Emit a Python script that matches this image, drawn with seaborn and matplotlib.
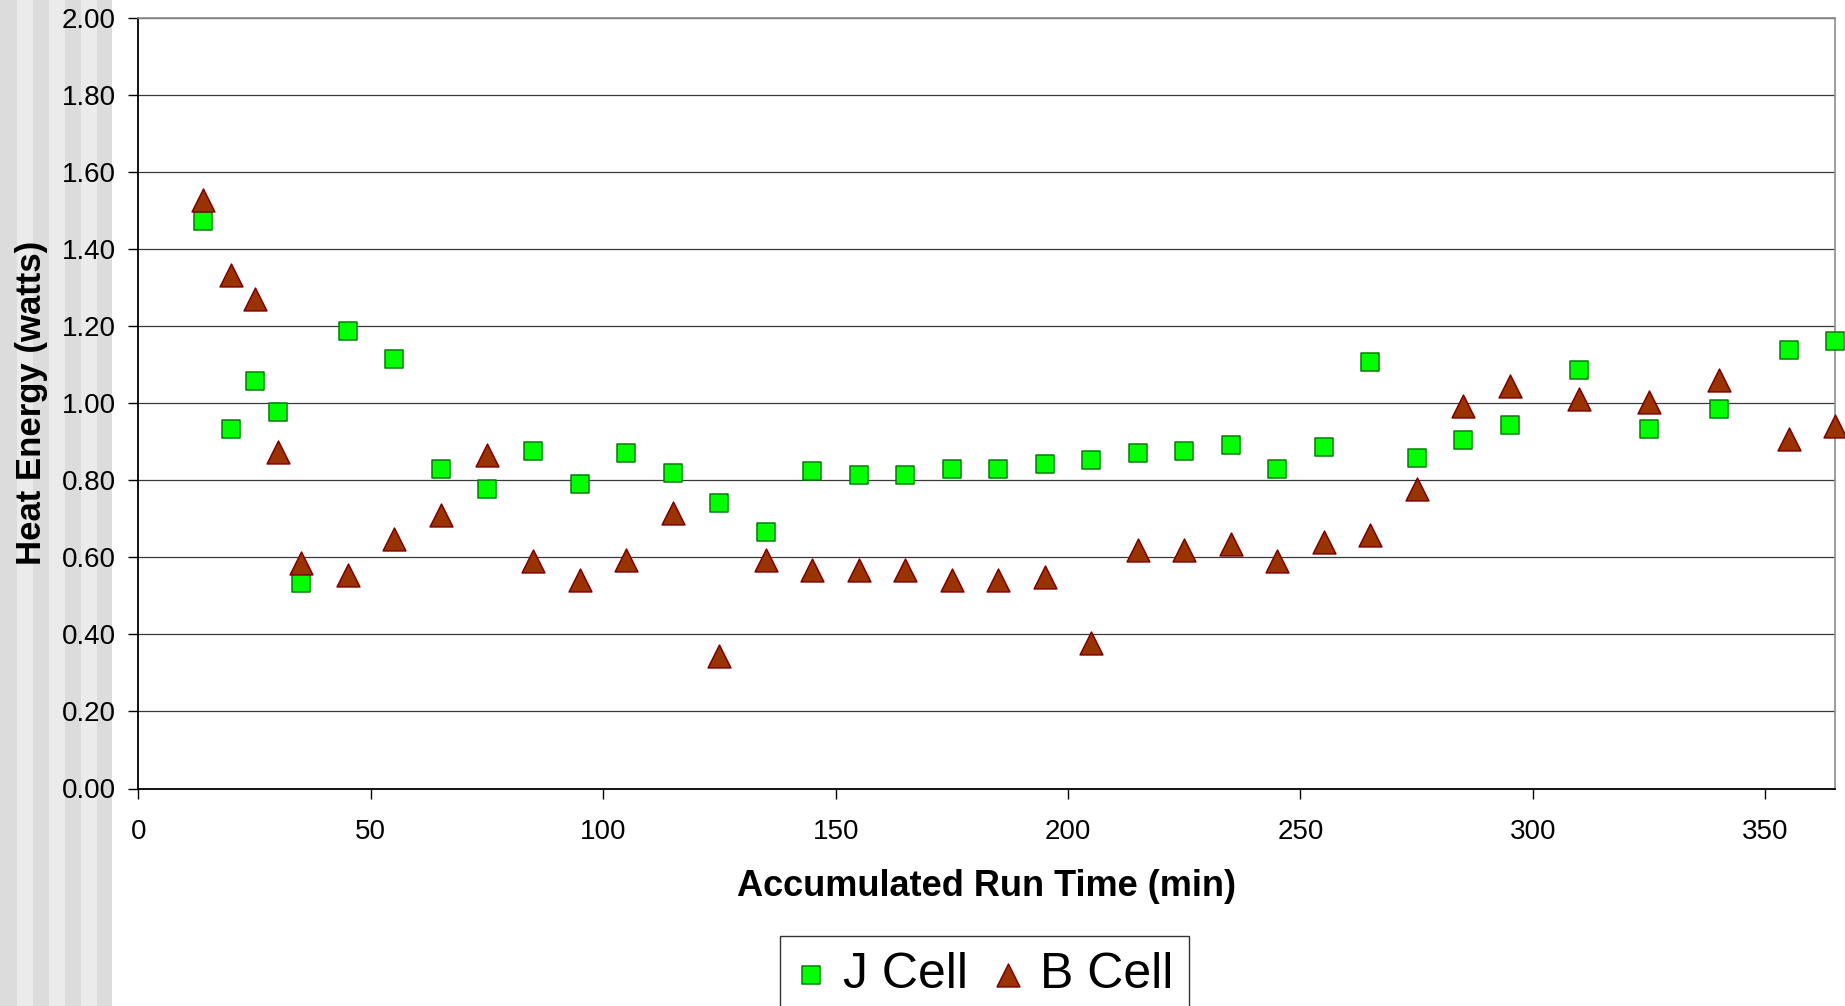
import matplotlib
matplotlib.use("Agg")
import matplotlib.pyplot as plt
from matplotlib.patches import Rectangle
import seaborn as sns
import pandas as pd

# ---- data ----
run_time = [14, 20, 25, 30, 35, 45, 55, 65, 75, 85, 95, 105, 115, 125, 135,
            145, 155, 165, 175, 185, 195, 205, 215, 225, 235, 245, 255, 265,
            275, 285, 295, 310, 325, 340, 355, 365]
j_cell = [1.473, 0.933, 1.058, 0.977, 0.532, 1.186, 1.114, 0.828, 0.776, 0.876,
          0.790, 0.871, 0.818, 0.741, 0.665, 0.823, 0.813, 0.813, 0.828, 0.828,
          0.842, 0.852, 0.871, 0.876, 0.890, 0.828, 0.885, 1.106, 0.857, 0.904,
          0.942, 1.086, 0.933, 0.985, 1.138, 1.162]
b_cell = [1.527, 1.331, 1.269, 0.873, 0.586, 0.553, 0.648, 0.710, 0.864, 0.591,
          0.540, 0.592, 0.715, 0.343, 0.592, 0.568, 0.568, 0.568, 0.540, 0.540,
          0.549, 0.377, 0.620, 0.620, 0.634, 0.591, 0.639, 0.658, 0.776, 0.993,
          1.045, 1.011, 1.002, 1.060, 0.906, 0.940]
series_names = ["J Cell", "B Cell"]
y_ticks = [0.0, 0.2, 0.4, 0.6, 0.8, 1.0, 1.2, 1.4, 1.6, 1.8, 2.0]
x_ticks = [0, 50, 100, 150, 200, 250, 300, 350]
x_label = "Accumulated Run Time (min)"
y_label = "Heat Energy (watts)"

df_j = pd.DataFrame({"t": run_time, "v": j_cell})
df_b = pd.DataFrame({"t": run_time, "v": b_cell})

sns.set_theme(style="white")
plt.rcParams["font.family"] = ["Liberation Sans", "DejaVu Sans"]
plt.rcParams["text.color"] = "black"
plt.rcParams["axes.labelcolor"] = "black"
plt.rcParams["xtick.color"] = "black"
plt.rcParams["ytick.color"] = "black"

W, H = 1845, 1006
fig = plt.figure(figsize=(W / 100, H / 100), dpi=100)
fig.patch.set_facecolor("white")

# left decorative stripes (behind everything)
edges = [0, 16.7, 33.3, 49, 65, 81, 97, 112]
for i in range(len(edges) - 1):
    col = "#dcdcdc" if i % 2 == 0 else "#ebebeb"
    fig.patches.append(Rectangle((edges[i] / W, 0), (edges[i + 1] - edges[i]) / W, 1,
                                 transform=fig.transFigure, facecolor=col,
                                 edgecolor="none", zorder=-10))

left, right = 138.4 / W, 1835 / W
top, bottom = 1 - 17.6 / H, 1 - 788.5 / H
ax = fig.add_axes([left, bottom, right - left, top - bottom])
ax.set_facecolor("white")
ax.patch.set_alpha(0)

sns.scatterplot(data=df_j, x="t", y="v", ax=ax, marker="s", s=170,
                color="#00ff00", edgecolor="#008000", linewidth=1.1,
                label=series_names[0], clip_on=False, zorder=3)
sns.scatterplot(data=df_b, x="t", y="v", ax=ax, marker="^", s=270,
                color="#993300", edgecolor="#800000", linewidth=1.1,
                label=series_names[1], clip_on=False, zorder=3)

ax.set_xlim(0, 365)
ax.set_ylim(0, 2.0)
ax.set_yticks(y_ticks)
ax.set_yticklabels([f"{v:.2f}" for v in y_ticks])
ax.set_xticks(x_ticks)
ax.set_xticklabels([str(v) for v in x_ticks])

ax.grid(axis="y", color="#3a3a3a", linewidth=0.9)
ax.grid(axis="x", visible=False)
ax.set_axisbelow(True)

for s in ["left", "bottom"]:
    ax.spines[s].set_color("black")
    ax.spines[s].set_linewidth(1.3)
for s in ["top", "right"]:
    ax.spines[s].set_color("#8c8c8c")
    ax.spines[s].set_linewidth(1.2)

ax.tick_params(axis="y", direction="out", length=7.2, width=1, color="black",
               labelcolor="black", labelsize=20, pad=9, left=True)
ax.tick_params(axis="x", direction="out", length=7.2, width=1, color="black",
               labelcolor="black", labelsize=20, pad=15, bottom=True)

ax.set_xlabel(x_label, fontsize=26, fontweight="bold", labelpad=17, color="black")
ax.set_ylabel(y_label, fontsize=25, fontweight="bold", labelpad=10, color="black")

handles, labels = ax.get_legend_handles_labels()
if ax.legend_:
    ax.legend_.remove()
leg = fig.legend(handles, labels, loc="upper center",
                 bbox_to_anchor=(984.5 / W, 1 - 936 / H), ncol=2,
                 fontsize=36, frameon=True, fancybox=False, shadow=False,
                 borderaxespad=0, borderpad=0.32, handlelength=0.6,
                 handletextpad=0.34, columnspacing=0.5, markerscale=1.0)
leg.get_frame().set_edgecolor("#333333")
leg.get_frame().set_linewidth(1.0)
leg.get_frame().set_alpha(1)
for t in leg.get_texts():
    t.set_color("black")

fig.savefig("out.png", dpi=100, facecolor="white")
